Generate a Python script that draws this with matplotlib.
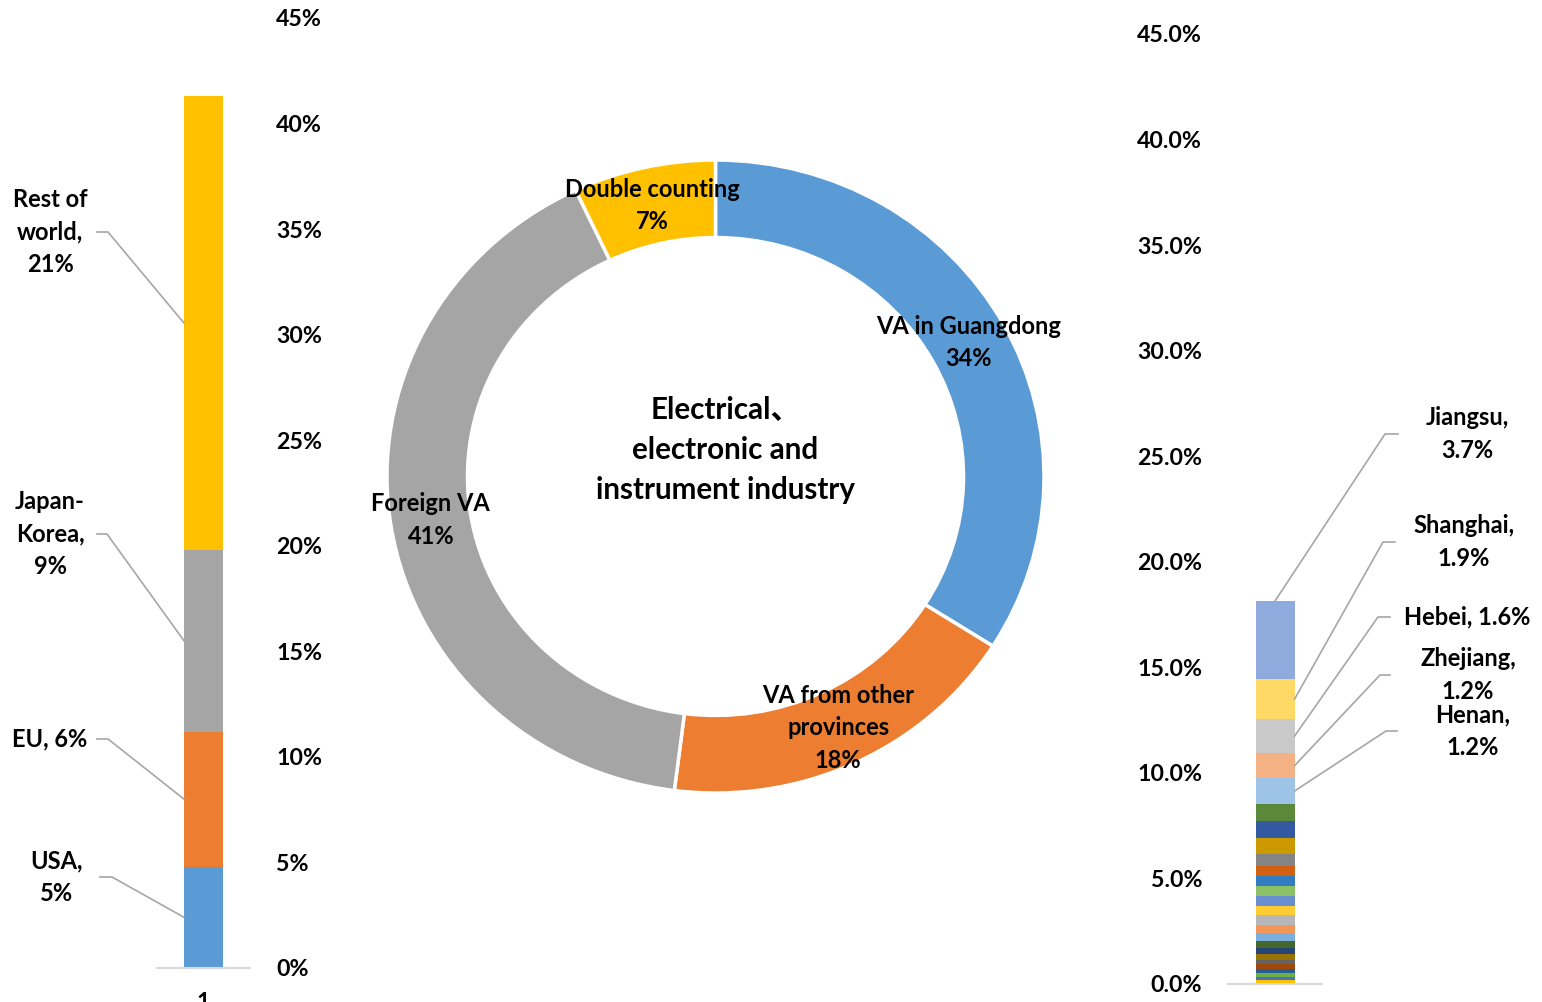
import numpy as np
import matplotlib.pyplot as plt
from matplotlib.lines import Line2D
from matplotlib.ticker import FuncFormatter

plt.rcParams['font.family'] = ['Lato', 'Noto Sans CJK SC', 'DejaVu Sans']
plt.rcParams['font.weight'] = 'bold'

W, H = 1542, 1002

# foreign value added by origin, %, bottom to top
foreign_vals = [4.8, 6.4, 8.6, 21.5]
foreign_labels = ['USA,\n5%', 'EU, 6%', 'Japan-\nKorea,\n9%', 'Rest of\nworld,\n21%']
foreign_colors = ['#5B9BD5', '#ED7D31', '#A5A5A5', '#FFC000']

# value added split of the industry, %
ring_names = ['VA in Guangdong', 'VA from other\nprovinces', 'Foreign VA', 'Double counting']
ring_vals = [34, 18, 41, 7]
ring_colors = ['#5B9BD5', '#ED7D31', '#A5A5A5', '#FFC000']

# value added from other provinces, %, bottom to top
prov_vals = [0.17, 0.14, 0.22, 0.20, 0.22, 0.20, 0.28, 0.28, 0.33, 0.38, 0.38,
             0.47, 0.43, 0.47, 0.47, 0.46, 0.47, 0.57, 0.77, 0.81, 0.82,
             1.2, 1.2, 1.6, 1.9, 3.7]
prov_colors = ['#FFC000', '#4472C4', '#70AD47', '#255E91', '#9E480E', '#636363',
               '#997300', '#264478', '#43682B', '#7CAFDD', '#F1975A', '#B7B7B7',
               '#FFCD33', '#698ED0', '#8CC168', '#327DC2', '#D26012', '#848484',
               '#CC9A00', '#335AA1', '#5A8A39', '#9DC3E6', '#F4B183', '#C9C9C9',
               '#FFD966', '#8FAADC']
prov_labels = [None] * 21 + ['Henan,\n1.2%', 'Zhejiang,\n1.2%', 'Hebei, 1.6%',
                             'Shanghai,\n1.9%', 'Jiangsu,\n3.7%']

FS = 17
TICK_FS = 16.7
LS = 1.5
GRID = '#D9D9D9'
LEAD = '#A6A6A6'

fig = plt.figure(figsize=(W / 100, H / 100), dpi=100)


def px(x, y):
    return x / W, 1 - y / H


def leader(ax, xy, p_start, p_elbow):
    dx, dy = ax.transData.transform(xy)
    xs = [p_start[0] / W, p_elbow[0] / W, dx / W]
    ys = [1 - p_start[1] / H, 1 - p_elbow[1] / H, dy / H]
    fig.add_artist(Line2D(xs, ys, color=LEAD, lw=1.2, transform=fig.transFigure))


def stack_axes(rect, vals, colors, width):
    ax = fig.add_axes(rect)
    bottoms = np.concatenate([[0], np.cumsum(vals)[:-1]])
    ax.bar(0, vals, bottom=bottoms, width=width, color=colors, linewidth=0)
    ax.set_xlim(-0.5, 0.5)
    ax.set_ylim(0, 45)
    ax.set_yticks(np.arange(0, 46, 5))
    for s in ['top', 'left', 'right']:
        ax.spines[s].set_visible(False)
    ax.spines['bottom'].set_color(GRID)
    ax.spines['bottom'].set_linewidth(1.5)
    ax.tick_params(axis='y', length=0, pad=18.7, labelsize=TICK_FS)
    return ax, bottoms


# left bar: foreign VA
ax1, b1 = stack_axes([157 / W, (H - 968) / H, 93 / W, 950 / H],
                     foreign_vals, foreign_colors, 39 / 93)
ax1.yaxis.tick_right()
ax1.yaxis.set_major_formatter(FuncFormatter(lambda v, p: f'{v:.0f}%'))
ax1.set_xticks([0])
ax1.set_xticklabels(['1'])
ax1.tick_params(axis='x', length=0, pad=17, labelsize=TICK_FS)

left_pos = [(56, 877, 100, 112), (50, 739, 97, 108), (50, 534, 97, 107), (50, 232, 97, 108)]
for i, (lx, ly, sx, ex) in enumerate(left_pos):
    fig.text(*px(lx, ly), foreign_labels[i], ha='center', va='center',
             fontsize=FS, linespacing=LS)
    mid = b1[i] + foreign_vals[i] / 2
    leader(ax1, (-39 / 93 / 2, mid), (sx, ly), (ex, ly))

# donut in the middle
ax2 = fig.add_axes([387 / W, 209 / H, 657 / W, 633 / H])
wedges, texts = ax2.pie(ring_vals, colors=ring_colors, startangle=90, counterclock=False,
                        radius=1, labels=[f'{n}\n{v}%' for n, v in zip(ring_names, ring_vals)],
                        labeldistance=0.8775,
                        wedgeprops=dict(width=0.245, edgecolor='white', linewidth=2.5),
                        textprops=dict(fontsize=FS, fontweight='bold', linespacing=LS))
for t in texts:
    t.set_ha('center')
    t.set_va('center')
ax2.set_aspect('auto')
ax2.set_xlim(-1, 1)
ax2.set_ylim(-1, 1)
ax2.text(0.03, 0.084, 'Electrical、\nelectronic and\ninstrument industry', ha='center',
         va='center', fontsize=21.3, linespacing=1.52)

# right bar: other provinces
ax3, b3 = stack_axes([1228 / W, (H - 984) / H, 94 / W, 950 / H],
                     prov_vals, prov_colors, 39 / 94)
ax3.yaxis.set_major_formatter(FuncFormatter(lambda v, p: f'{v:.1f}%'))
ax3.set_xticks([])

right_pos = {21: (1473, 731, 1397, 1386), 22: (1468, 675, 1390, 1380),
             23: (1467, 617, 1390, 1378), 24: (1464, 542, 1395, 1383),
             25: (1467, 434, 1398, 1385)}
bw = 39 / 94
for i, lab in enumerate(prov_labels):
    if lab is None:
        continue
    lx, ly, sx, ex = right_pos[i]
    fig.text(*px(lx, ly), lab, ha='center', va='center', fontsize=FS, linespacing=LS)
    if i == len(prov_vals) - 1:
        pt = (0, b3[i] + prov_vals[i])
    else:
        pt = (bw / 2, b3[i] + prov_vals[i] / 2)
    leader(ax3, pt, (sx, ly), (ex, ly))

fig.savefig('out.png', dpi=100)
